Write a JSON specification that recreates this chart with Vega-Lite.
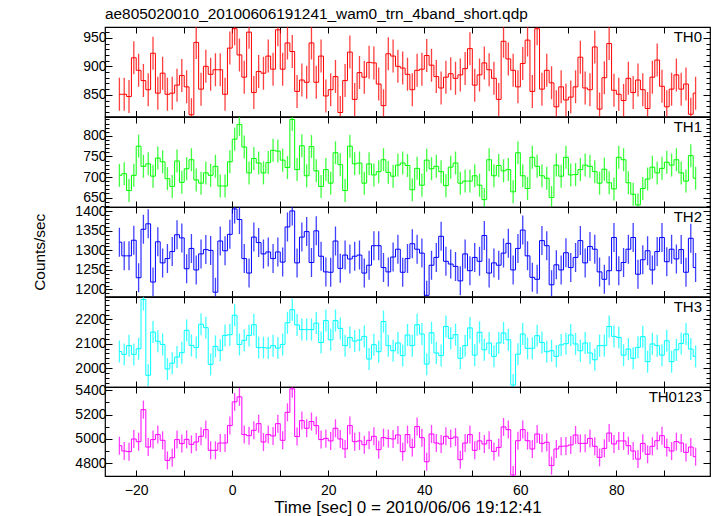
{
"$schema": "https://vega.github.io/schema/vega-lite/v6.json",
"padding": {"left": 32, "top": 7, "right": 2, "bottom": 2},
"title": {"text": "ae805020010_20100606191241_wam0_trn_4band_short.qdp", "anchor": "start", "frame": "group", "fontSize": 15.4, "fontWeight": "normal", "font": "Liberation Sans", "color": "#000", "offset": 2},
"datasets": {"d": [
{"t":-23.5,"a":851,"b":704,"c":1321,"d":2068,"e":4945},
{"t":-22.5,"a":851,"b":708,"c":1286,"d":2056,"e":4901},
{"t":-21.5,"a":847,"b":667,"c":1286,"d":2092,"e":4896},
{"t":-20.5,"a":915,"b":704,"c":1326,"d":2056,"e":5000},
{"t":-19.5,"a":893,"b":775,"c":1230,"d":2079,"e":4978},
{"t":-18.5,"a":875,"b":726,"c":1354,"d":2282,"e":5241},
{"t":-17.5,"a":859,"b":732,"c":1368,"d":1970,"e":4934},
{"t":-16.5,"a":923,"b":702,"c":1219,"d":2148,"e":4995},
{"t":-15.5,"a":853,"b":746,"c":1322,"d":2110,"e":5036},
{"t":-14.5,"a":888,"b":737,"c":1268,"d":2097,"e":4989},
{"t":-13.5,"a":851,"b":696,"c":1279,"d":1996,"e":4824},
{"t":-12.5,"a":853,"b":677,"c":1297,"d":2020,"e":4846},
{"t":-11.5,"a":867,"b":739,"c":1340,"d":2045,"e":4995},
{"t":-10.5,"a":884,"b":687,"c":1332,"d":2063,"e":4962},
{"t":-9.5,"a":864,"b":720,"c":1253,"d":2155,"e":4997},
{"t":-8.5,"a":815,"b":742,"c":1305,"d":2093,"e":4956},
{"t":-7.5,"a":942,"b":693,"c":1250,"d":2084,"e":4975},
{"t":-6.5,"a":860,"b":685,"c":1291,"d":2180,"e":5022},
{"t":-5.5,"a":900,"b":710,"c":1302,"d":2166,"e":5077},
{"t":-4.5,"a":886,"b":704,"c":1300,"d":2015,"e":4907},
{"t":-3.5,"a":894,"b":726,"c":1193,"d":2089,"e":4907},
{"t":-2.5,"a":894,"b":678,"c":1324,"d":2073,"e":4967},
{"t":-1.5,"a":851,"b":678,"c":1299,"d":2134,"e":4967},
{"t":-0.5,"a":932,"b":737,"c":1341,"d":2137,"e":5110},
{"t":0.5,"a":966,"b":792,"c":1406,"d":2217,"e":5305},
{"t":1.5,"a":920,"b":828,"c":1379,"d":2097,"e":5346},
{"t":2.5,"a":881,"b":773,"c":1279,"d":2114,"e":5036},
{"t":3.5,"a":960,"b":710,"c":1242,"d":2134,"e":5027},
{"t":4.5,"a":854,"b":745,"c":1334,"d":2178,"e":5071},
{"t":5.5,"a":891,"b":734,"c":1320,"d":2084,"e":5126},
{"t":6.5,"a":888,"b":710,"c":1291,"d":2084,"e":4975},
{"t":7.5,"a":918,"b":735,"c":1296,"d":2082,"e":5036},
{"t":8.5,"a":895,"b":765,"c":1279,"d":2092,"e":5025},
{"t":9.5,"a":964,"b":763,"c":1296,"d":2082,"e":5126},
{"t":10.5,"a":895,"b":741,"c":1270,"d":2097,"e":4989},
{"t":11.5,"a":941,"b":723,"c":1360,"d":2186,"e":5219},
{"t":12.5,"a":926,"b":840,"c":1401,"d":2240,"e":5412},
{"t":13.5,"a":856,"b":718,"c":1268,"d":2177,"e":5020},
{"t":14.5,"a":876,"b":776,"c":1334,"d":2158,"e":5151},
{"t":15.5,"a":872,"b":703,"c":1348,"d":2158,"e":5088},
{"t":16.5,"a":941,"b":774,"c":1269,"d":2158,"e":5143},
{"t":17.5,"a":872,"b":715,"c":1350,"d":2185,"e":5110},
{"t":18.5,"a":918,"b":677,"c":1285,"d":2105,"e":4995},
{"t":19.5,"a":848,"b":718,"c":1245,"d":2195,"e":5005},
{"t":20.5,"a":859,"b":685,"c":1244,"d":2116,"e":4984},
{"t":21.5,"a":882,"b":759,"c":1324,"d":2195,"e":5088},
{"t":22.5,"a":819,"b":730,"c":1254,"d":2163,"e":5000},
{"t":23.5,"a":875,"b":667,"c":1288,"d":2092,"e":4918},
{"t":24.5,"a":925,"b":775,"c":1278,"d":2125,"e":5110},
{"t":25.5,"a":842,"b":732,"c":1285,"d":2111,"e":4978},
{"t":26.5,"a":889,"b":734,"c":1288,"d":2115,"e":4984},
{"t":27.5,"a":881,"b":685,"c":1242,"d":2130,"e":4953},
{"t":28.5,"a":907,"b":732,"c":1262,"d":2037,"e":4989},
{"t":29.5,"a":906,"b":705,"c":1312,"d":2096,"e":5022},
{"t":30.5,"a":869,"b":713,"c":1312,"d":2067,"e":4912},
{"t":31.5,"a":831,"b":742,"c":1256,"d":2191,"e":5011},
{"t":32.5,"a":922,"b":711,"c":1245,"d":2092,"e":5005},
{"t":33.5,"a":918,"b":702,"c":1283,"d":2071,"e":5000},
{"t":34.5,"a":900,"b":729,"c":1303,"d":2103,"e":5033},
{"t":35.5,"a":897,"b":734,"c":1244,"d":2051,"e":4896},
{"t":36.5,"a":886,"b":728,"c":1279,"d":2136,"e":5036},
{"t":37.5,"a":859,"b":669,"c":1317,"d":2092,"e":4931},
{"t":38.5,"a":893,"b":721,"c":1303,"d":2178,"e":5102},
{"t":39.5,"a":895,"b":680,"c":1293,"d":2140,"e":5011},
{"t":40.5,"a":919,"b":741,"c":1185,"d":2016,"e":4813},
{"t":41.5,"a":902,"b":720,"c":1262,"d":2145,"e":5041},
{"t":42.5,"a":882,"b":726,"c":1282,"d":2062,"e":4967},
{"t":43.5,"a":862,"b":713,"c":1336,"d":2051,"e":4959},
{"t":44.5,"a":881,"b":679,"c":1272,"d":2171,"e":5022},
{"t":45.5,"a":887,"b":724,"c":1265,"d":2122,"e":5005},
{"t":46.5,"a":879,"b":734,"c":1259,"d":2137,"e":5016},
{"t":47.5,"a":885,"b":685,"c":1222,"d":2040,"e":4830},
{"t":48.5,"a":896,"b":690,"c":1291,"d":2092,"e":4967},
{"t":49.5,"a":931,"b":690,"c":1248,"d":2165,"e":5036},
{"t":50.5,"a":867,"b":703,"c":1282,"d":2053,"e":4907},
{"t":51.5,"a":885,"b":680,"c":1272,"d":2147,"e":4984},
{"t":52.5,"a":906,"b":645,"c":1338,"d":2075,"e":4959},
{"t":53.5,"a":894,"b":742,"c":1242,"d":2103,"e":4989},
{"t":54.5,"a":879,"b":703,"c":1268,"d":2048,"e":4898},
{"t":55.5,"a":842,"b":728,"c":1262,"d":2103,"e":4931},
{"t":56.5,"a":944,"b":715,"c":1293,"d":2144,"e":5099},
{"t":57.5,"a":913,"b":718,"c":1318,"d":2116,"e":5077},
{"t":58.5,"a":893,"b":664,"c":1250,"d":1930,"e":4704},
{"t":59.5,"a":864,"b":759,"c":1305,"d":2057,"e":4986},
{"t":60.5,"a":905,"b":703,"c":1352,"d":2140,"e":5077},
{"t":61.5,"a":946,"b":672,"c":1286,"d":2081,"e":4986},
{"t":62.5,"a":856,"b":748,"c":1231,"d":2081,"e":4918},
{"t":63.5,"a":966,"b":726,"c":1226,"d":2133,"e":5041},
{"t":64.5,"a":860,"b":703,"c":1325,"d":2105,"e":4964},
{"t":65.5,"a":893,"b":697,"c":1312,"d":2067,"e":4973},
{"t":66.5,"a":871,"b":650,"c":1212,"d":2071,"e":4781},
{"t":67.5,"a":829,"b":729,"c":1263,"d":2048,"e":4918},
{"t":68.5,"a":864,"b":702,"c":1250,"d":2095,"e":4940},
{"t":69.5,"a":841,"b":748,"c":1294,"d":2100,"e":4942},
{"t":70.5,"a":846,"b":705,"c":1256,"d":2136,"e":4951},
{"t":71.5,"a":864,"b":706,"c":1282,"d":2099,"e":5033},
{"t":72.5,"a":916,"b":718,"c":1325,"d":2071,"e":4964},
{"t":73.5,"a":862,"b":729,"c":1268,"d":2103,"e":4964},
{"t":74.5,"a":859,"b":726,"c":1310,"d":2062,"e":5005},
{"t":75.5,"a":934,"b":713,"c":1303,"d":2034,"e":4940},
{"t":76.5,"a":825,"b":685,"c":1245,"d":2092,"e":4849},
{"t":77.5,"a":880,"b":719,"c":1226,"d":2092,"e":4923},
{"t":78.5,"a":940,"b":686,"c":1248,"d":2171,"e":5049},
{"t":79.5,"a":858,"b":671,"c":1333,"d":2130,"e":4959},
{"t":80.5,"a":851,"b":748,"c":1248,"d":2126,"e":4984},
{"t":81.5,"a":840,"b":742,"c":1269,"d":2053,"e":4984},
{"t":82.5,"a":879,"b":686,"c":1303,"d":2078,"e":4945},
{"t":83.5,"a":854,"b":658,"c":1333,"d":2040,"e":4901},
{"t":84.5,"a":876,"b":632,"c":1239,"d":2085,"e":4835},
{"t":85.5,"a":859,"b":672,"c":1276,"d":2129,"e":4964},
{"t":86.5,"a":826,"b":695,"c":1299,"d":2026,"e":4874},
{"t":87.5,"a":881,"b":724,"c":1250,"d":2099,"e":4940},
{"t":88.5,"a":911,"b":710,"c":1297,"d":2092,"e":4986},
{"t":89.5,"a":865,"b":721,"c":1333,"d":2053,"e":5027},
{"t":90.5,"a":829,"b":736,"c":1271,"d":2112,"e":4931},
{"t":91.5,"a":860,"b":729,"c":1303,"d":2026,"e":4901},
{"t":92.5,"a":885,"b":742,"c":1278,"d":2075,"e":4978},
{"t":93.5,"a":860,"b":710,"c":1302,"d":2101,"e":4967},
{"t":94.5,"a":869,"b":690,"c":1244,"d":2140,"e":4890},
{"t":95.5,"a":816,"b":752,"c":1331,"d":2078,"e":4934},
{"t":96.5,"a":853,"b":697,"c":1256,"d":2048,"e":4855}
]},
"data": {"name": "d"},
"spacing": 0,
"bounds": "flush",
"vconcat": [
{"width": 605, "height": 89.5,
 "layer": [
  {"mark": {"type": "line", "interpolate": "step", "color": "#ff0000", "strokeWidth": 1, "clip": true},
   "encoding": {
    "x": {"field": "t", "type": "quantitative", "scale": {"domain": [-26.5, 99.5], "nice": false, "zero": false}, "axis": {"orient": "bottom", "values": [-20,-10,0,10,20,30,40,50,60,70,80,90], "labels": false, "tickSize": -6, "title": null}},
    "y": {"field": "a", "type": "quantitative", "scale": {"domain": [812, 969], "nice": false, "zero": false}, "axis": {"orient": "left", "format": "d", "values": [820,830,840,850,860,870,880,890,900,910,920,930,940,950,960], "labelExpr": "datum.value % 50 === 0 ? datum.label : ''", "tickSize": {"condition": {"test": "datum.value % 50 === 0", "value": -7}, "value": -4}, "labelPadding": 6, "title": null}}
   }},
  {"mark": {"type": "tick", "orient": "vertical", "size": 33, "thickness": 1.3, "color": "#ff0000", "opacity": 0.75, "clip": true},
   "encoding": {
    "x": {"field": "t", "type": "quantitative", "scale": {"domain": [-26.5, 99.5], "nice": false, "zero": false}, "axis": {"orient": "top", "values": [-20,-10,0,10,20,30,40,50,60,70,80,90], "labels": false, "tickSize": -6, "title": null}},
    "y": {"field": "a", "type": "quantitative", "scale": {"domain": [812, 969], "nice": false, "zero": false}, "axis": {"orient": "right", "values": [820,830,840,850,860,870,880,890,900,910,920,930,940,950,960], "labels": false, "tickSize": {"condition": {"test": "datum.value % 50 === 0", "value": -7}, "value": -4}, "title": null}}
   }},
  {"data": {"values": [{"lab": "TH0"}]},
   "mark": {"type": "text", "align": "right", "baseline": "top", "dx": -8, "dy": 3, "fontSize": 15, "font": "Liberation Sans", "color": "#000"},
   "encoding": {"text": {"field": "lab"}, "x": {"value": "width"}, "y": {"value": 0}}}
 ],
 "resolve": {"axis": {"x": "independent", "y": "independent"}}
},
{"width": 605, "height": 90,
 "layer": [
  {"mark": {"type": "line", "interpolate": "step", "color": "#00ff00", "strokeWidth": 1, "clip": true},
   "encoding": {
    "x": {"field": "t", "type": "quantitative", "scale": {"domain": [-26.5, 99.5], "nice": false, "zero": false}, "axis": {"orient": "bottom", "values": [-20,-10,0,10,20,30,40,50,60,70,80,90], "labels": false, "tickSize": -6, "title": null}},
    "y": {"field": "b", "type": "quantitative", "scale": {"domain": [627, 846], "nice": false, "zero": false}, "axis": {"orient": "left", "format": "d", "values": [630,640,650,660,670,680,690,700,710,720,730,740,750,760,770,780,790,800,810,820,830,840], "labelExpr": "datum.value % 50 === 0 ? datum.label : ''", "tickSize": {"condition": {"test": "datum.value % 50 === 0", "value": -7}, "value": -4}, "labelPadding": 6, "title": null}}
   }},
  {"mark": {"type": "tick", "orient": "vertical", "size": 23, "thickness": 1.3, "color": "#00ff00", "opacity": 0.75, "clip": true},
   "encoding": {
    "x": {"field": "t", "type": "quantitative", "scale": {"domain": [-26.5, 99.5], "nice": false, "zero": false}, "axis": {"orient": "top", "values": [-20,-10,0,10,20,30,40,50,60,70,80,90], "labels": false, "tickSize": -6, "title": null}},
    "y": {"field": "b", "type": "quantitative", "scale": {"domain": [627, 846], "nice": false, "zero": false}, "axis": {"orient": "right", "values": [630,640,650,660,670,680,690,700,710,720,730,740,750,760,770,780,790,800,810,820,830,840], "labels": false, "tickSize": {"condition": {"test": "datum.value % 50 === 0", "value": -7}, "value": -4}, "title": null}}
   }},
  {"data": {"values": [{"lab": "TH1"}]},
   "mark": {"type": "text", "align": "right", "baseline": "top", "dx": -8, "dy": 3, "fontSize": 15, "font": "Liberation Sans", "color": "#000"},
   "encoding": {"text": {"field": "lab"}, "x": {"value": "width"}, "y": {"value": 0}}}
 ],
 "resolve": {"axis": {"x": "independent", "y": "independent"}}
},
{"width": 605, "height": 89.5,
 "layer": [
  {"mark": {"type": "line", "interpolate": "step", "color": "#0000ff", "strokeWidth": 1, "clip": true},
   "encoding": {
    "x": {"field": "t", "type": "quantitative", "scale": {"domain": [-26.5, 99.5], "nice": false, "zero": false}, "axis": {"orient": "bottom", "values": [-20,-10,0,10,20,30,40,50,60,70,80,90], "labels": false, "tickSize": -6, "title": null}},
    "y": {"field": "c", "type": "quantitative", "scale": {"domain": [1182, 1411], "nice": false, "zero": false}, "axis": {"orient": "left", "format": "d", "values": [1190,1200,1210,1220,1230,1240,1250,1260,1270,1280,1290,1300,1310,1320,1330,1340,1350,1360,1370,1380,1390,1400,1410], "labelExpr": "datum.value % 50 === 0 ? datum.label : ''", "tickSize": {"condition": {"test": "datum.value % 50 === 0", "value": -7}, "value": -4}, "labelPadding": 6, "title": "Counts/sec", "titlePadding": 27, "titleFontSize": 15.4, "titleFontWeight": "normal", "titleFont": "Liberation Sans", "titleColor": "#000"}}
   }},
  {"mark": {"type": "tick", "orient": "vertical", "size": 29, "thickness": 1.3, "color": "#0000ff", "opacity": 0.75, "clip": true},
   "encoding": {
    "x": {"field": "t", "type": "quantitative", "scale": {"domain": [-26.5, 99.5], "nice": false, "zero": false}, "axis": {"orient": "top", "values": [-20,-10,0,10,20,30,40,50,60,70,80,90], "labels": false, "tickSize": -6, "title": null}},
    "y": {"field": "c", "type": "quantitative", "scale": {"domain": [1182, 1411], "nice": false, "zero": false}, "axis": {"orient": "right", "values": [1190,1200,1210,1220,1230,1240,1250,1260,1270,1280,1290,1300,1310,1320,1330,1340,1350,1360,1370,1380,1390,1400,1410], "labels": false, "tickSize": {"condition": {"test": "datum.value % 50 === 0", "value": -7}, "value": -4}, "title": null}}
   }},
  {"data": {"values": [{"lab": "TH2"}]},
   "mark": {"type": "text", "align": "right", "baseline": "top", "dx": -8, "dy": 3, "fontSize": 15, "font": "Liberation Sans", "color": "#000"},
   "encoding": {"text": {"field": "lab"}, "x": {"value": "width"}, "y": {"value": 0}}}
 ],
 "resolve": {"axis": {"x": "independent", "y": "independent"}}
},
{"width": 605, "height": 90,
 "layer": [
  {"mark": {"type": "line", "interpolate": "step", "color": "#00ffff", "strokeWidth": 1, "clip": true},
   "encoding": {
    "x": {"field": "t", "type": "quantitative", "scale": {"domain": [-26.5, 99.5], "nice": false, "zero": false}, "axis": {"orient": "bottom", "values": [-20,-10,0,10,20,30,40,50,60,70,80,90], "labels": false, "tickSize": -6, "title": null}},
    "y": {"field": "d", "type": "quantitative", "scale": {"domain": [1922, 2292], "nice": false, "zero": false}, "axis": {"orient": "left", "format": "d", "values": [1940,1960,1980,2000,2020,2040,2060,2080,2100,2120,2140,2160,2180,2200,2220,2240,2260,2280], "labelExpr": "datum.value % 100 === 0 ? datum.label : ''", "tickSize": {"condition": {"test": "datum.value % 100 === 0", "value": -7}, "value": -4}, "labelPadding": 6, "title": null}}
   }},
  {"mark": {"type": "tick", "orient": "vertical", "size": 22, "thickness": 1.3, "color": "#00ffff", "opacity": 0.75, "clip": true},
   "encoding": {
    "x": {"field": "t", "type": "quantitative", "scale": {"domain": [-26.5, 99.5], "nice": false, "zero": false}, "axis": {"orient": "top", "values": [-20,-10,0,10,20,30,40,50,60,70,80,90], "labels": false, "tickSize": -6, "title": null}},
    "y": {"field": "d", "type": "quantitative", "scale": {"domain": [1922, 2292], "nice": false, "zero": false}, "axis": {"orient": "right", "values": [1940,1960,1980,2000,2020,2040,2060,2080,2100,2120,2140,2160,2180,2200,2220,2240,2260,2280], "labels": false, "tickSize": {"condition": {"test": "datum.value % 100 === 0", "value": -7}, "value": -4}, "title": null}}
   }},
  {"data": {"values": [{"lab": "TH3"}]},
   "mark": {"type": "text", "align": "right", "baseline": "top", "dx": -8, "dy": 3, "fontSize": 15, "font": "Liberation Sans", "color": "#000"},
   "encoding": {"text": {"field": "lab"}, "x": {"value": "width"}, "y": {"value": 0}}}
 ],
 "resolve": {"axis": {"x": "independent", "y": "independent"}}
},
{"width": 605, "height": 89,
 "layer": [
  {"mark": {"type": "line", "interpolate": "step", "color": "#ff00ff", "strokeWidth": 1, "clip": true},
   "encoding": {
    "x": {"field": "t", "type": "quantitative", "scale": {"domain": [-26.5, 99.5], "nice": false, "zero": false}, "axis": {"orient": "bottom", "values": [-20,-10,0,10,20,30,40,50,60,70,80,90], "labelExpr": "datum.value % 20 === 0 ? datum.label : ''", "tickSize": -6, "labelPadding": 13, "title": "Time [sec] 0 = 2010/06/06 19:12:41", "titlePadding": 2.5, "titleFontSize": 17, "titleFontWeight": "normal", "titleFont": "Liberation Sans", "titleColor": "#000"}},
    "y": {"field": "e", "type": "quantitative", "scale": {"domain": [4696, 5427], "nice": false, "zero": false}, "axis": {"orient": "left", "format": "d", "values": [4700,4800,4900,5000,5100,5200,5300,5400], "labelExpr": "datum.value % 200 === 0 ? datum.label : ''", "tickSize": {"condition": {"test": "datum.value % 200 === 0", "value": -7}, "value": -4}, "labelPadding": 6, "title": null}}
   }},
  {"mark": {"type": "tick", "orient": "vertical", "size": 18, "thickness": 1.3, "color": "#ff00ff", "opacity": 0.75, "clip": true},
   "encoding": {
    "x": {"field": "t", "type": "quantitative", "scale": {"domain": [-26.5, 99.5], "nice": false, "zero": false}, "axis": {"orient": "top", "values": [-20,-10,0,10,20,30,40,50,60,70,80,90], "labels": false, "tickSize": -6, "title": null}},
    "y": {"field": "e", "type": "quantitative", "scale": {"domain": [4696, 5427], "nice": false, "zero": false}, "axis": {"orient": "right", "values": [4700,4800,4900,5000,5100,5200,5300,5400], "labels": false, "tickSize": {"condition": {"test": "datum.value % 200 === 0", "value": -7}, "value": -4}, "title": null}}
   }},
  {"data": {"values": [{"lab": "TH0123"}]},
   "mark": {"type": "text", "align": "right", "baseline": "top", "dx": -8, "dy": 3, "fontSize": 15, "font": "Liberation Sans", "color": "#000"},
   "encoding": {"text": {"field": "lab"}, "x": {"value": "width"}, "y": {"value": 0}}}
 ],
 "resolve": {"axis": {"x": "independent", "y": "independent"}}
}
],
"config": {
 "font": "Liberation Sans",
 "view": {"stroke": "#000", "strokeWidth": 1.2},
 "axis": {"domain": false, "grid": false, "labelFont": "Liberation Sans", "labelFontSize": 14, "labelColor": "#000", "tickColor": "#000", "tickWidth": 1, "labelOverlap": false, "labelFlush": false, "labelBound": false}
}
}
